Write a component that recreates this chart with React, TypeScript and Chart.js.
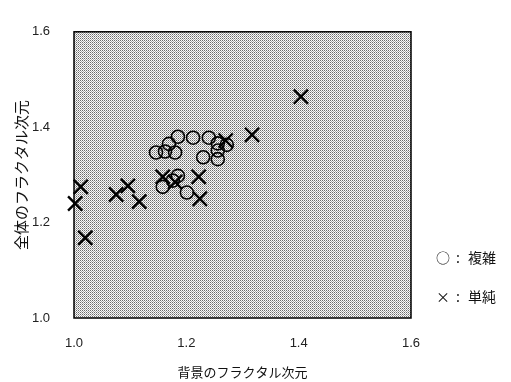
import React, { useEffect, useRef } from "react";
import { Chart, registerables } from "chart.js";

Chart.register(...registerables);

const complexX = [1.185, 1.212, 1.240, 1.169, 1.146, 1.162, 1.180, 1.230, 1.256, 1.256, 1.256, 1.272, 1.185, 1.158, 1.201, 1.176];
const complexY = [1.380, 1.378, 1.378, 1.365, 1.347, 1.349, 1.347, 1.337, 1.366, 1.351, 1.333, 1.363, 1.298, 1.275, 1.263, 1.288];

const simpleX = [1.002, 1.012, 1.020, 1.075, 1.096, 1.116, 1.158, 1.180, 1.222, 1.224, 1.270, 1.317, 1.404];
const simpleY = [1.240, 1.275, 1.168, 1.259, 1.277, 1.244, 1.296, 1.285, 1.296, 1.250, 1.372, 1.384, 1.464];

const axisMin = 1.0;
const axisMax = 1.6;
const axisStep = 0.2;

const xTitle = "背景のフラクタル次元";
const yTitle = "全体のフラクタル次元";
const legendItems = [
  { symbol: "○", label: "複雑" },
  { symbol: "×", label: "単純" },
];

const tickFont = { family: "'Liberation Sans Narrow', 'Liberation Sans', Arial, sans-serif", size: 13 };
const cjkFont = "'Noto Sans CJK JP', 'Noto Sans', sans-serif";

function makePattern(): CanvasPattern | string {
  const c = document.createElement("canvas");
  c.width = 2;
  c.height = 2;
  const g = c.getContext("2d");
  if (!g) return "#bbb";
  g.fillStyle = "#fafafa";
  g.fillRect(0, 0, 2, 2);
  g.fillStyle = "#6a6a6a";
  g.fillRect(0, 0, 1, 1);
  g.fillStyle = "#a8a8a8";
  g.fillRect(1, 1, 1, 1);
  const p = g.createPattern(c, "repeat");
  return p || "#bbb";
}

export default function App() {
  const ref = useRef<HTMLCanvasElement | null>(null);

  useEffect(() => {
    if (!ref.current) return;
    const pattern = makePattern();

    const framePlugin = {
      id: "frame",
      beforeDatasetsDraw(chart: any) {
        const { ctx, chartArea } = chart;
        ctx.save();
        ctx.fillStyle = pattern;
        ctx.fillRect(chartArea.left, chartArea.top, chartArea.right - chartArea.left, chartArea.bottom - chartArea.top);
        ctx.strokeStyle = "#000";
        ctx.lineWidth = 1.5;
        ctx.strokeRect(chartArea.left, chartArea.top, chartArea.right - chartArea.left, chartArea.bottom - chartArea.top);
        ctx.restore();
      },
      afterDraw(chart: any) {
        const { ctx } = chart;
        ctx.save();
        ctx.fillStyle = "#111";
        ctx.textBaseline = "middle";
        ctx.font = `14px ${cjkFont}`;
        const baseX = chart.width - 75;
        legendItems.forEach((it, i) => {
          const y = 258 + i * 39;
          ctx.textAlign = "left";
          ctx.fillText(it.symbol, baseX, y);
          ctx.fillText(":", baseX + 20, y);
          ctx.fillText(it.label, baseX + 32, y);
        });
        ctx.restore();
      },
    };

    const chart = new Chart(ref.current, {
      type: "scatter",
      data: {
        datasets: [
          {
            label: "複雑",
            data: complexX.map((x, i) => ({ x, y: complexY[i] })),
            pointStyle: "circle",
            pointRadius: 6.5,
            pointBorderWidth: 1.6,
            pointBorderColor: "#000",
            pointBackgroundColor: "rgba(0,0,0,0)",
            clip: false,
          },
          {
            label: "単純",
            data: simpleX.map((x, i) => ({ x, y: simpleY[i] })),
            pointStyle: "crossRot",
            pointRadius: 10,
            pointBorderWidth: 2.4,
            pointBorderColor: "#000",
            pointBackgroundColor: "#000",
            clip: false,
          },
        ],
      },
      options: {
        responsive: false,
        animation: false,
        layout: { padding: { left: 0, right: 100, top: 10, bottom: 0 } },
        plugins: { legend: { display: false }, tooltip: { enabled: false } },
        scales: {
          x: {
            type: "linear",
            min: axisMin,
            max: axisMax,
            grid: { display: false, drawTicks: false },
            border: { display: false },
            ticks: {
              stepSize: axisStep,
              padding: 18,
              color: "#222",
              font: tickFont,
              callback: (v: any) => Number(v).toFixed(1),
            },
            title: {
              display: true,
              text: xTitle,
              color: "#111",
              font: { family: cjkFont, size: 13 },
              padding: { top: 0, bottom: 2 },
            },
            afterFit: (s: any) => {
              s.height = 64;
            },
          },
          y: {
            type: "linear",
            min: axisMin,
            max: axisMax,
            grid: { display: false, drawTicks: false },
            border: { display: false },
            ticks: {
              stepSize: axisStep,
              padding: 24,
              color: "#222",
              font: tickFont,
              callback: (v: any) => Number(v).toFixed(1),
            },
            title: {
              display: true,
              text: yTitle,
              color: "#111",
              font: { family: cjkFont, size: 15 },
              padding: { top: 12, bottom: 0 },
            },
            afterFit: (s: any) => {
              s.width = 74;
            },
          },
        },
      },
      plugins: [framePlugin],
    });
    return () => chart.destroy();
  }, []);

  return (
    <div style={{ position: "fixed", left: 0, top: 0, width: 511, height: 382, background: "#fff" }}>
      <canvas ref={ref} width={511} height={382} />
    </div>
  );
}
